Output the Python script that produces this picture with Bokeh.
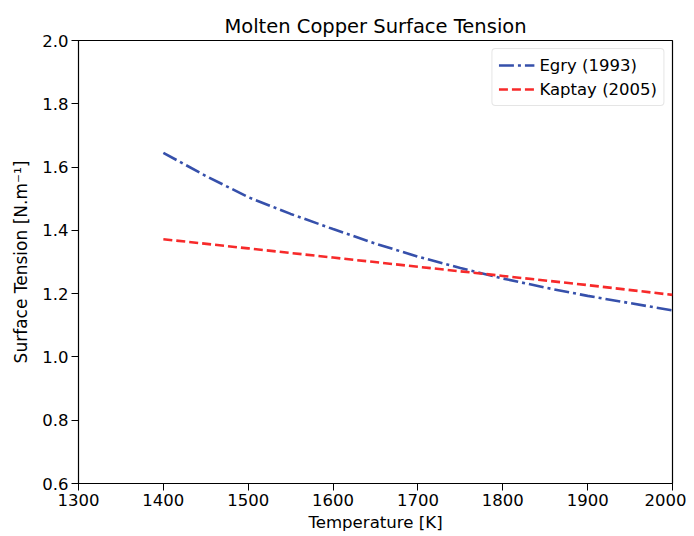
from bokeh.plotting import figure
from bokeh.models import Range1d, FixedTicker, NumeralTickFormatter, Legend, LegendItem
from bokeh.embed import file_html
from bokeh.resources import INLINE

# Data
egry_T = [1400, 1450, 1500, 1550, 1600, 1650, 1700, 1750, 1800, 1850, 1900, 1950, 2000]
egry_sigma = [1.645, 1.572, 1.505, 1.452, 1.404, 1.358, 1.317, 1.281, 1.248, 1.219, 1.193, 1.170, 1.147]
kaptay_T = [1400, 1500, 1600, 1700, 1800, 1900, 2000]
kaptay_sigma = [1.372, 1.343, 1.314, 1.285, 1.256, 1.227, 1.196]
x_ticks = [1300, 1400, 1500, 1600, 1700, 1800, 1900, 2000]
y_ticks = [0.6, 0.8, 1.0, 1.2, 1.4, 1.6, 1.8, 2.0]

FONT = "DejaVu Sans"

p = figure(width=686, height=534, output_backend="svg", toolbar_location=None,
           x_range=Range1d(1300, 2000), y_range=Range1d(0.6, 2.0),
           min_border_left=78, min_border_right=14, min_border_top=40, min_border_bottom=45,
           title="Molten Copper Surface Tension")

p.title.align = "center"
p.title.text_font = FONT
p.title.text_font_size = "19.5px"
p.title.text_font_style = "normal"
p.title.text_color = "black"
p.title.standoff = 5

p.grid.visible = False
p.outline_line_color = "black"
p.outline_line_width = 1.2
p.background_fill_color = "white"
p.border_fill_color = "white"

for ax in (p.xaxis[0], p.yaxis[0]):
    ax.major_tick_out = 7
    ax.major_tick_in = 0
    ax.minor_tick_out = 0
    ax.minor_tick_in = 0
    ax.axis_line_color = "black"
    ax.major_tick_line_color = "black"
    ax.major_label_text_font = FONT
    ax.major_label_text_font_size = "16.5px"
    ax.major_label_text_color = "black"
    ax.major_label_standoff = 3
    ax.axis_label_text_font = FONT
    ax.axis_label_text_font_size = "16.6px"
    ax.axis_label_text_font_style = "normal"
    ax.axis_label_text_color = "black"

p.xaxis.ticker = FixedTicker(ticks=x_ticks)
p.yaxis.ticker = FixedTicker(ticks=y_ticks)
p.yaxis.formatter = NumeralTickFormatter(format="0.0")
p.xaxis.axis_label = "Temperature [K]"
p.yaxis.axis_label = "Surface Tension [N.m\u207b\u00b9]"
p.yaxis.axis_label_text_font_size = "17px"
p.xaxis.axis_label_standoff = 4
p.yaxis.axis_label_standoff = 8

r1 = p.line(egry_T, egry_sigma, line_color="#3650ab", line_width=2.6, line_dash="15 4 3 4")
r2 = p.line(kaptay_T, kaptay_sigma, line_color="#f72a2a", line_width=2.6, line_dash="9 4")

legend = Legend(items=[LegendItem(label="Egry (1993)", renderers=[r1]),
                       LegendItem(label="Kaptay (2005)", renderers=[r2])],
                location="top_right")
legend.label_text_font = FONT
legend.label_text_font_size = "16.5px"
legend.label_text_color = "black"
legend.border_line_color = "#cccccc"
legend.border_line_width = 1
legend.border_radius = 4
legend.background_fill_alpha = 0.8
legend.glyph_width = 36
legend.spacing = 4
legend.padding = 6
legend.margin = 8
p.add_layout(legend)

open("out.html", "w").write(file_html(p, INLINE))
